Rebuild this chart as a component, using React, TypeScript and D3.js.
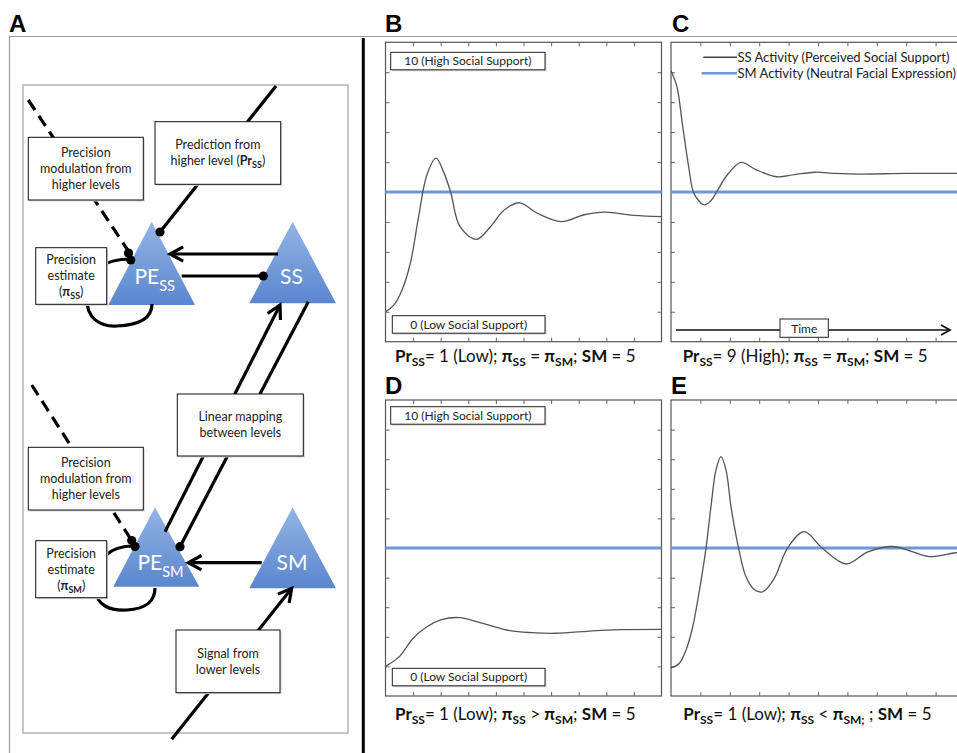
import React, { useEffect, useRef } from "react";
import * as d3 from "d3";

// simulated activity (time 0-10, activity 0-10)
const timeB = [0, 0.3, 0.6, 0.9, 1.2, 1.5, 1.83, 2.1, 2.36, 2.7, 3.3, 3.8, 4.3, 4.87, 5.5, 6.37, 7.2, 7.94, 9.0, 10];
const ssB = [1.0, 1.22, 1.73, 2.62, 4.18, 5.57, 6.13, 5.68, 5.0, 3.84, 3.42, 3.84, 4.4, 4.64, 4.29, 4.01, 4.24, 4.33, 4.22, 4.18];

const timeC = [0, 0.2, 0.4, 0.6, 0.76, 0.95, 1.13, 1.35, 1.55, 1.9, 2.38, 2.9, 3.59, 4.2, 4.89, 5.6, 6.42, 8, 10];
const ssC = [9.05, 8.52, 7.18, 5.85, 5.0, 4.7, 4.57, 4.7, 5.0, 5.55, 5.99, 5.74, 5.51, 5.58, 5.66, 5.62, 5.6, 5.62, 5.62];

const timeD = [0, 0.5, 1.0, 1.5, 2.0, 2.67, 3.5, 4.5, 5.3, 6.17, 7.5, 8.5, 10];
const ssD = [1.0, 1.33, 1.95, 2.34, 2.57, 2.65, 2.46, 2.21, 2.14, 2.12, 2.2, 2.24, 2.25];

const timeE = [0, 0.28, 0.51, 0.74, 0.91, 1.08, 1.19, 1.36, 1.53, 1.7, 1.87, 2.04, 2.3, 2.55, 2.83, 3.11, 3.5, 3.96, 4.53, 5.15, 5.95, 6.7, 7.53, 8.2, 8.78, 9.68, 10];
const ssE = [0.95, 1.1, 1.55, 2.34, 3.24, 4.26, 4.99, 6.4, 7.64, 8.09, 7.64, 6.4, 4.99, 4.03, 3.6, 3.52, 3.95, 4.99, 5.55, 4.99, 4.46, 4.87, 5.05, 4.88, 4.71, 4.84, 4.86];

const smLevel = 5;
const tickValues = [1, 2, 3, 4, 5, 6, 7, 8, 9];

// caption segments: [text, bold, subscript]
const captionB = [["Pr", 1, 0], ["SS", 1, 1], ["= 1 (Low); ", 0, 0], ["π", 1, 0], ["SS", 1, 1], [" = ", 0, 0], ["π", 1, 0], ["SM", 1, 1], ["; ", 0, 0], ["SM", 1, 0], [" = 5", 0, 0]];
const captionC = [["Pr", 1, 0], ["SS", 1, 1], ["= 9 (High); ", 0, 0], ["π", 1, 0], ["SS", 1, 1], [" = ", 0, 0], ["π", 1, 0], ["SM", 1, 1], ["; ", 0, 0], ["SM", 1, 0], [" = 5", 0, 0]];
const captionD = [["Pr", 1, 0], ["SS", 1, 1], ["= 1 (Low); ", 0, 0], ["π", 1, 0], ["SS", 1, 1], [" > ", 0, 0], ["π", 1, 0], ["SM", 1, 1], ["; ", 0, 0], ["SM", 1, 0], [" = 5", 0, 0]];
const captionE = [["Pr", 1, 0], ["SS", 1, 1], ["= 1 (Low); ", 0, 0], ["π", 1, 0], ["SS", 1, 1], [" < ", 0, 0], ["π", 1, 0], ["SM;", 1, 1], [" ; ", 0, 0], ["SM", 1, 0], [" = 5", 0, 0]];

const highLabel = "10 (High Social Support)";
const lowLabel = "0 (Low Social Support)";
const legendLabels = ["SS Activity (Perceived Social Support)", "SM Activity (Neutral Facial Expression)"];

const FONT = "Lato, 'Open Sans', sans-serif";
const BLUE = "#6f98d8";

export default function App() {
  const ref = useRef<SVGSVGElement>(null);

  useEffect(() => {
    const svg = d3.select(ref.current);
    svg.selectAll("*").remove();

    svg.append("rect").attr("width", 957).attr("height", 753).attr("fill", "white");

    // frame lines
    svg.append("line").attr("x1", 9).attr("x2", 957).attr("y1", 36.5).attr("y2", 36.5).attr("stroke", "#9a9a9a").attr("stroke-width", 1.2);
    svg.append("line").attr("x1", 9.5).attr("x2", 9.5).attr("y1", 36).attr("y2", 753).attr("stroke", "#9a9a9a").attr("stroke-width", 1.2);
    svg.append("line").attr("x1", 363.3).attr("x2", 363.3).attr("y1", 38).attr("y2", 753).attr("stroke", "#000").attr("stroke-width", 3);

    const letter = (t: string, x: number, y: number) =>
      svg.append("text").attr("x", x).attr("y", y).attr("font-family", "'Liberation Sans', Arial, sans-serif")
        .attr("font-weight", "bold").attr("font-size", 24).text(t);
    letter("A", 9, 32);

    // ---------- panel A : diagram ----------
    const defs = svg.append("defs");
    const grad = defs.append("linearGradient").attr("id", "triGrad").attr("x1", 0).attr("x2", 0).attr("y1", 0).attr("y2", 1);
    grad.append("stop").attr("offset", "0%").attr("stop-color", "#93b5e6");
    grad.append("stop").attr("offset", "100%").attr("stop-color", "#5a86cd");

    const A = svg.append("g");
    A.append("rect").attr("x", 23).attr("y", 85).attr("width", 325).attr("height", 648)
      .attr("fill", "none").attr("stroke", "#b4b4b4").attr("stroke-width", 1.5);

    const tri = (ax: number, ay: number, bl: number, br: number, by: number) =>
      A.append("path").attr("d", `M${ax},${ay} L${br},${by} L${bl},${by} Z`).attr("fill", "url(#triGrad)");
    tri(151.7, 221.7, 108.3, 195, 305);
    tri(292.7, 221.7, 249.3, 336, 303.3);
    tri(155, 507.3, 113.3, 199.3, 586.7);
    tri(292.7, 507.3, 249.3, 336, 588.3);

    const seg = (x1: number, y1: number, x2: number, y2: number, dash?: string) => {
      const l = A.append("line").attr("x1", x1).attr("y1", y1).attr("x2", x2).attr("y2", y2)
        .attr("stroke", "#000").attr("stroke-width", 3.2);
      if (dash) l.attr("stroke-dasharray", dash);
      return l;
    };
    const dot = (x: number, y: number) => A.append("circle").attr("cx", x).attr("cy", y).attr("r", 4.6).attr("fill", "#000");
    const head = (x1: number, y1: number, x2: number, y2: number) => {
      const a = Math.atan2(y2 - y1, x2 - x1);
      const L = 15, s = 0.5;
      const p1 = [x2 - L * Math.cos(a - s), y2 - L * Math.sin(a - s)];
      const p2 = [x2 - L * Math.cos(a + s), y2 - L * Math.sin(a + s)];
      A.append("path").attr("d", `M${p1[0]},${p1[1]} L${x2},${y2} L${p2[0]},${p2[1]}`)
        .attr("fill", "none").attr("stroke", "#000").attr("stroke-width", 3.2);
    };
    const arrow = (x1: number, y1: number, x2: number, y2: number) => {
      seg(x1, y1, x2, y2);
      head(x1, y1, x2, y2);
    };
    const loop = (d: string) => A.append("path").attr("d", d).attr("fill", "none").attr("stroke", "#000").attr("stroke-width", 3.2);

    // upper level
    seg(28.3, 100, 129, 252, "12 7");
    seg(276, 86, 160, 232);
    dot(160, 232);
    arrow(278, 254, 170, 254);
    seg(181.7, 276, 263.3, 276);
    dot(263.3, 276);
    loop("M131,259 C105,259 88,268 87,298 C86,318 100,327 117,326 C140,325 152,318 152,304");
    dot(128.5, 253);
    dot(130.7, 260);

    // between levels
    arrow(165, 531.7, 280, 305);
    seg(308.3, 301.7, 180, 546.7);
    dot(180, 546.7);

    // lower level
    seg(31.7, 385, 132, 541, "12 7");
    arrow(261.7, 562.7, 188.3, 562.7);
    loop("M134,546 C110,546 96,556 96,590 C96,605 110,611 127,610 C147,609 155,600 155,588");
    dot(131.7, 540.5);
    dot(135, 546.5);
    arrow(171.7, 739.3, 291.7, 588.3);

    const box = (x: number, y: number, w: number, h: number, lines: any[][], lh = 16) => {
      A.append("rect").attr("x", x + 1.5).attr("y", y + 1.5).attr("width", w).attr("height", h).attr("fill", "#d8d8d8");
      A.append("rect").attr("x", x).attr("y", y).attr("width", w).attr("height", h).attr("fill", "white")
        .attr("stroke", "#111").attr("stroke-width", 1);
      const cy = y + h / 2 - ((lines.length - 1) * lh) / 2;
      lines.forEach((ln, i) => {
        const t = A.append("text").attr("x", x + w / 2).attr("y", cy + i * lh + 4.3).attr("text-anchor", "middle")
          .attr("font-family", FONT).attr("font-size", 12.5).attr("fill", "#222");
        let shift = 0;
        ln.forEach(([s, b, sub]) => {
          const ts = t.append("tspan").text(s as string);
          if (b) ts.attr("font-weight", "bold");
          if (sub) { ts.attr("font-size", 9).attr("dy", 3 - shift); shift = 3; }
          else if (shift) { ts.attr("dy", -shift); shift = 0; }
        });
      });
    };
    box(28.3, 137.3, 115, 62.7, [[["Precision", 0, 0]], [["modulation from", 0, 0]], [["higher levels", 0, 0]]]);
    box(155, 121.7, 125.7, 62.6, [[["Prediction from", 0, 0]], [["higher level (", 0, 0], ["Pr", 1, 0], ["SS", 1, 1], [")", 0, 0]]]);
    box(35.7, 247.7, 71, 56.6, [[["Precision", 0, 0]], [["estimate", 0, 0]], [["(", 0, 0], ["π", 1, 0], ["SS", 1, 1], [")", 0, 0]]]);
    box(177.3, 394, 126, 62, [[["Linear mapping", 0, 0]], [["between levels", 0, 0]]]);
    box(28.3, 447.3, 115, 62.7, [[["Precision", 0, 0]], [["modulation from", 0, 0]], [["higher levels", 0, 0]]]);
    box(35.7, 540.7, 71, 57, [[["Precision", 0, 0]], [["estimate", 0, 0]], [["(", 0, 0], ["π", 1, 0], ["SM", 1, 1], [")", 0, 0]]]);
    box(176, 630, 104, 62.7, [[["Signal from", 0, 0]], [["lower levels", 0, 0]]]);

    const nodeLabel = (x: number, y: number, main: string, sub?: string) => {
      const t = A.append("text").attr("x", x).attr("y", y).attr("text-anchor", "middle")
        .attr("font-family", FONT).attr("font-size", 21).attr("fill", "white").text(main);
      if (sub) t.append("tspan").attr("font-size", 14.5).attr("dy", 7).text(sub);
    };
    nodeLabel(154.7, 284, "PE", "SS");
    nodeLabel(291.5, 283.5, "SS");
    nodeLabel(160.5, 570, "PE", "SM");
    nodeLabel(292, 570, "SM");

    // ---------- panels B-E ----------
    const panels = [
      { id: "B", t: timeB, ss: ssB, caption: captionB, x0: 385.5, x1: 661.5, yb: 341.7, yt: 42.3, lx: 385, ly: 32, cx: 395, cy: 362, high: 10, low: 26, legend: false, time: false },
      { id: "C", t: timeC, ss: ssC, caption: captionC, x0: 671, x1: 965, yb: 341.7, yt: 42.3, lx: 672, ly: 32, cx: 682.7, cy: 362, high: 0, low: 0, legend: true, time: true },
      { id: "D", t: timeD, ss: ssD, caption: captionD, x0: 385.5, x1: 661.5, yb: 696, yt: 400, lx: 385, ly: 394, cx: 395, cy: 720, high: 6.7, low: 27.7, legend: false, time: false },
      { id: "E", t: timeE, ss: ssE, caption: captionE, x0: 671, x1: 965, yb: 696, yt: 400, lx: 671, ly: 394, cx: 683.3, cy: 720, high: 0, low: 0, legend: false, time: false },
    ];

    panels.forEach((p) => {
      const x = d3.scaleLinear().domain([0, 10]).range([p.x0, p.x1]);
      const y = d3.scaleLinear().domain([0, 10]).range([p.yb, p.yt]);
      const g = svg.append("g");

      g.append("rect").attr("x", p.x0).attr("y", p.yt).attr("width", p.x1 - p.x0).attr("height", p.yb - p.yt)
        .attr("fill", "white").attr("stroke", "#555").attr("stroke-width", 1.2);

      const tickStyle = (sel: any) => {
        sel.select(".domain").remove();
        sel.selectAll("line").attr("stroke", "#666");
      };
      g.append("g").attr("transform", `translate(0,${p.yb})`)
        .call(d3.axisBottom(x).tickValues(tickValues).tickSize(-4).tickFormat(() => "")).call(tickStyle);
      g.append("g").attr("transform", `translate(0,${p.yt})`)
        .call(d3.axisTop(x).tickValues(tickValues).tickSize(-4).tickFormat(() => "")).call(tickStyle);
      g.append("g").attr("transform", `translate(${p.x0},0)`)
        .call(d3.axisLeft(y).tickValues(tickValues).tickSize(-4).tickFormat(() => "")).call(tickStyle);
      g.append("g").attr("transform", `translate(${p.x1},0)`)
        .call(d3.axisRight(y).tickValues(tickValues).tickSize(-4).tickFormat(() => "")).call(tickStyle);

      // SM activity (constant)
      g.append("line").attr("x1", x(0)).attr("x2", x(10)).attr("y1", y(smLevel)).attr("y2", y(smLevel))
        .attr("stroke", BLUE).attr("stroke-width", 2.8);

      const pts = p.t.map((t, i) => [t, p.ss[i]] as [number, number]);
      const line = d3.line<[number, number]>().x((d) => x(d[0])).y((d) => y(d[1])).curve(d3.curveCatmullRom.alpha(0.5));
      g.append("path").attr("d", line(pts)).attr("fill", "none").attr("stroke", "#555").attr("stroke-width", 1.3);

      const labelBox = (top: number, text: string, bx: number) => {
        g.append("rect").attr("x", bx + 1.5).attr("y", top + 1.5).attr("width", 545 - bx).attr("height", 17.5).attr("fill", "#d5d5d5");
        g.append("rect").attr("x", bx).attr("y", top).attr("width", 545 - bx).attr("height", 17.5)
          .attr("fill", "white").attr("stroke", "#222").attr("stroke-width", 1);
        g.append("text").attr("x", (bx + 545) / 2).attr("y", top + 13).attr("text-anchor", "middle")
          .attr("font-family", FONT).attr("font-size", 12).attr("fill", "#222").text(text);
      };
      if (p.high) {
        labelBox(p.yt + p.high, highLabel, 390.7);
        labelBox(p.yb - p.low, lowLabel, 392.3);
      }

      if (p.legend) {
        g.append("line").attr("x1", 703.3).attr("x2", 737).attr("y1", 57.3).attr("y2", 57.3).attr("stroke", "#444").attr("stroke-width", 1.4);
        g.append("line").attr("x1", 701.7).attr("x2", 737).attr("y1", 73.3).attr("y2", 73.3).attr("stroke", BLUE).attr("stroke-width", 2.6);
        legendLabels.forEach((s, i) =>
          g.append("text").attr("x", 737.5).attr("y", 61.8 + i * 16).attr("font-family", FONT).attr("font-size", 13)
            .attr("fill", "#222").text(s));
      }

      if (p.time) {
        g.append("line").attr("x1", 676).attr("x2", 949).attr("y1", 330).attr("y2", 330).attr("stroke", "#111").attr("stroke-width", 1.6);
        g.append("path").attr("d", "M941,325 L950,330 L941,335").attr("fill", "none").attr("stroke", "#111").attr("stroke-width", 1.8);
        g.append("rect").attr("x", 780).attr("y", 319).attr("width", 48.3).attr("height", 18.3).attr("fill", "white").attr("stroke", "#222");
        g.append("text").attr("x", 804.2).attr("y", 332.5).attr("text-anchor", "middle").attr("font-family", FONT)
          .attr("font-size", 12).attr("fill", "#222").text("Time");
      }

      const cap = svg.append("text").attr("x", p.cx).attr("y", p.cy).attr("font-family", FONT).attr("font-size", 17).attr("fill", "#111");
      let shift = 0;
      p.caption.forEach(([s, b, sub]) => {
        const ts = cap.append("tspan").text(s as string);
        if (b) ts.attr("font-weight", "bold");
        if (sub) { ts.attr("font-size", 12).attr("dy", 4 - shift); shift = 4; }
        else if (shift) { ts.attr("dy", -shift); shift = 0; }
      });

      letter(p.id, p.lx, p.ly);
    });
  }, []);

  return (
    <svg ref={ref} width={957} height={753} style={{ position: "absolute", left: 0, top: 0, display: "block" }} />
  );
}
